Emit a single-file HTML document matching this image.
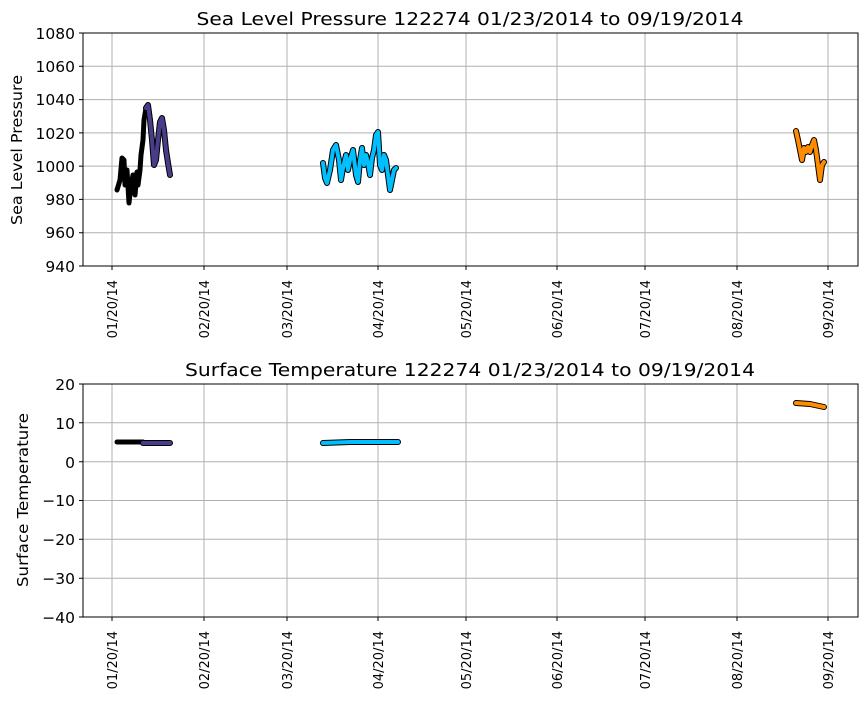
<!DOCTYPE html><html><head><style>body{margin:0;background:#fff}</style></head><body>
<svg width="867" height="700" xmlns="http://www.w3.org/2000/svg" font-family="DejaVu Sans, Liberation Sans, sans-serif">
<g stroke="#b0b0b0" stroke-width="1">
<line x1="112" y1="33" x2="112" y2="266"/><line x1="204" y1="33" x2="204" y2="266"/><line x1="287" y1="33" x2="287" y2="266"/><line x1="378" y1="33" x2="378" y2="266"/><line x1="466" y1="33" x2="466" y2="266"/><line x1="557" y1="33" x2="557" y2="266"/><line x1="645" y1="33" x2="645" y2="266"/><line x1="737" y1="33" x2="737" y2="266"/><line x1="828" y1="33" x2="828" y2="266"/>
<line x1="83" y1="66.3" x2="858" y2="66.3"/><line x1="83" y1="99.6" x2="858" y2="99.6"/><line x1="83" y1="132.9" x2="858" y2="132.9"/><line x1="83" y1="166.1" x2="858" y2="166.1"/><line x1="83" y1="199.4" x2="858" y2="199.4"/><line x1="83" y1="232.7" x2="858" y2="232.7"/>
<line x1="112" y1="384" x2="112" y2="617"/><line x1="204" y1="384" x2="204" y2="617"/><line x1="287" y1="384" x2="287" y2="617"/><line x1="378" y1="384" x2="378" y2="617"/><line x1="466" y1="384" x2="466" y2="617"/><line x1="557" y1="384" x2="557" y2="617"/><line x1="645" y1="384" x2="645" y2="617"/><line x1="737" y1="384" x2="737" y2="617"/><line x1="828" y1="384" x2="828" y2="617"/>
<line x1="83" y1="422.8" x2="858" y2="422.8"/><line x1="83" y1="461.7" x2="858" y2="461.7"/><line x1="83" y1="500.5" x2="858" y2="500.5"/><line x1="83" y1="539.3" x2="858" y2="539.3"/><line x1="83" y1="578.2" x2="858" y2="578.2"/>
</g>
<g stroke="#000" stroke-width="1">
<path d="M112 266v4M204 266v4M287 266v4M378 266v4M466 266v4M557 266v4M645 266v4M737 266v4M828 266v4M112 617v4M204 617v4M287 617v4M378 617v4M466 617v4M557 617v4M645 617v4M737 617v4M828 617v4"/>
<path d="M79 33h4M79 66.3h4M79 99.6h4M79 132.9h4M79 166.1h4M79 199.4h4M79 232.7h4M79 266h4M79 384h4M79 422.8h4M79 461.7h4M79 500.5h4M79 539.3h4M79 578.2h4M79 617h4"/>
</g>
<g fill="none" stroke-linejoin="round" stroke-linecap="round">
<polyline stroke="#000" stroke-width="5" points="117,190 120,180 122,158 124,160 125,185 127,170 129,203 131,185 133,175 135,195 137,172 138,185 140,170 141,155 143,140 144,120 146,108"/>
<polyline stroke="#000" stroke-width="6" points="146,108 148,105 150,120 152,140 154,165 156,160 158,140 160,122 162,118 164,130 166,150 168,163 170,175"/>
<polyline stroke="#483d8b" stroke-width="4" points="146,108 148,105 150,120 152,140 154,165 156,160 158,140 160,122 162,118 164,130 166,150 168,163 170,175"/>
<polyline stroke="#000" stroke-width="6" points="323,163 325,178 327,183 330,170 333,150 336,145 339,160 341,180 343,168 346,155 348,170 350,160 353,150 356,175 358,182 360,160 362,148 364,165 366,155 368,163 370,175 372,158 374,150 376,135 378,132 380,165 382,170 384,155 386,160 388,175 390,190 392,180 394,170 396,168"/>
<polyline stroke="#00bfff" stroke-width="4" points="323,163 325,178 327,183 330,170 333,150 336,145 339,160 341,180 343,168 346,155 348,170 350,160 353,150 356,175 358,182 360,160 362,148 364,165 366,155 368,163 370,175 372,158 374,150 376,135 378,132 380,165 382,170 384,155 386,160 388,175 390,190 392,180 394,170 396,168"/>
<polyline stroke="#000" stroke-width="6" points="796,131 798,140 800,150 802,160 804,148 806,152 808,147 810,152 812,145 814,140 816,150 818,165 820,180 822,165 824,162"/>
<polyline stroke="#ff8c00" stroke-width="4" points="796,131 798,140 800,150 802,160 804,148 806,152 808,147 810,152 812,145 814,140 816,150 818,165 820,180 822,165 824,162"/>
<polyline stroke="#000" stroke-width="5" points="117,442 143,442"/>
<polyline stroke="#000" stroke-width="6" points="143,443 170,443"/><polyline stroke="#483d8b" stroke-width="4" points="143,443 170,443"/>
<polyline stroke="#000" stroke-width="6" points="323,443 350,442 398,442"/><polyline stroke="#00bfff" stroke-width="4" points="323,443 350,442 398,442"/>
<polyline stroke="#000" stroke-width="6" points="796,403 810,404 824,407"/><polyline stroke="#ff8c00" stroke-width="4" points="796,403 810,404 824,407"/>
</g>
<rect x="83" y="33" width="775" height="233" fill="none" stroke="#000"/>
<rect x="83" y="384" width="775" height="233" fill="none" stroke="#000"/>
<g font-size="15.5" text-anchor="end">
<text x="75" y="39">1080</text><text x="75" y="72">1060</text><text x="75" y="105">1040</text><text x="75" y="139">1020</text><text x="75" y="172">1000</text><text x="75" y="205">980</text><text x="75" y="238">960</text><text x="75" y="272">940</text>
<text x="75" y="390">20</text><text x="75" y="429">10</text><text x="75" y="468">0</text><text x="75" y="506">−10</text><text x="75" y="545">−20</text><text x="75" y="584">−30</text><text x="75" y="623">−40</text>
</g>
<g font-size="13" text-anchor="end">
<text transform="translate(117,280) rotate(-90)">01/20/14</text><text transform="translate(209,280) rotate(-90)">02/20/14</text><text transform="translate(292,280) rotate(-90)">03/20/14</text><text transform="translate(383,280) rotate(-90)">04/20/14</text><text transform="translate(471,280) rotate(-90)">05/20/14</text><text transform="translate(562,280) rotate(-90)">06/20/14</text><text transform="translate(650,280) rotate(-90)">07/20/14</text><text transform="translate(742,280) rotate(-90)">08/20/14</text><text transform="translate(833,280) rotate(-90)">09/20/14</text>
<text transform="translate(117,631) rotate(-90)">01/20/14</text><text transform="translate(209,631) rotate(-90)">02/20/14</text><text transform="translate(292,631) rotate(-90)">03/20/14</text><text transform="translate(383,631) rotate(-90)">04/20/14</text><text transform="translate(471,631) rotate(-90)">05/20/14</text><text transform="translate(562,631) rotate(-90)">06/20/14</text><text transform="translate(650,631) rotate(-90)">07/20/14</text><text transform="translate(742,631) rotate(-90)">08/20/14</text><text transform="translate(833,631) rotate(-90)">09/20/14</text>
</g>
<g font-size="15.5" text-anchor="middle">
<text transform="translate(22,150) rotate(-90)" textLength="150" lengthAdjust="spacingAndGlyphs">Sea Level Pressure</text>
<text transform="translate(28,500) rotate(-90)" textLength="174" lengthAdjust="spacingAndGlyphs">Surface Temperature</text>
</g>
<g font-size="18" text-anchor="middle">
<text x="470" y="25" textLength="547" lengthAdjust="spacingAndGlyphs">Sea Level Pressure 122274  01/23/2014 to 09/19/2014</text>
<text x="470" y="376" textLength="570" lengthAdjust="spacingAndGlyphs">Surface Temperature 122274  01/23/2014 to 09/19/2014</text>
</g>
</svg></body></html>
